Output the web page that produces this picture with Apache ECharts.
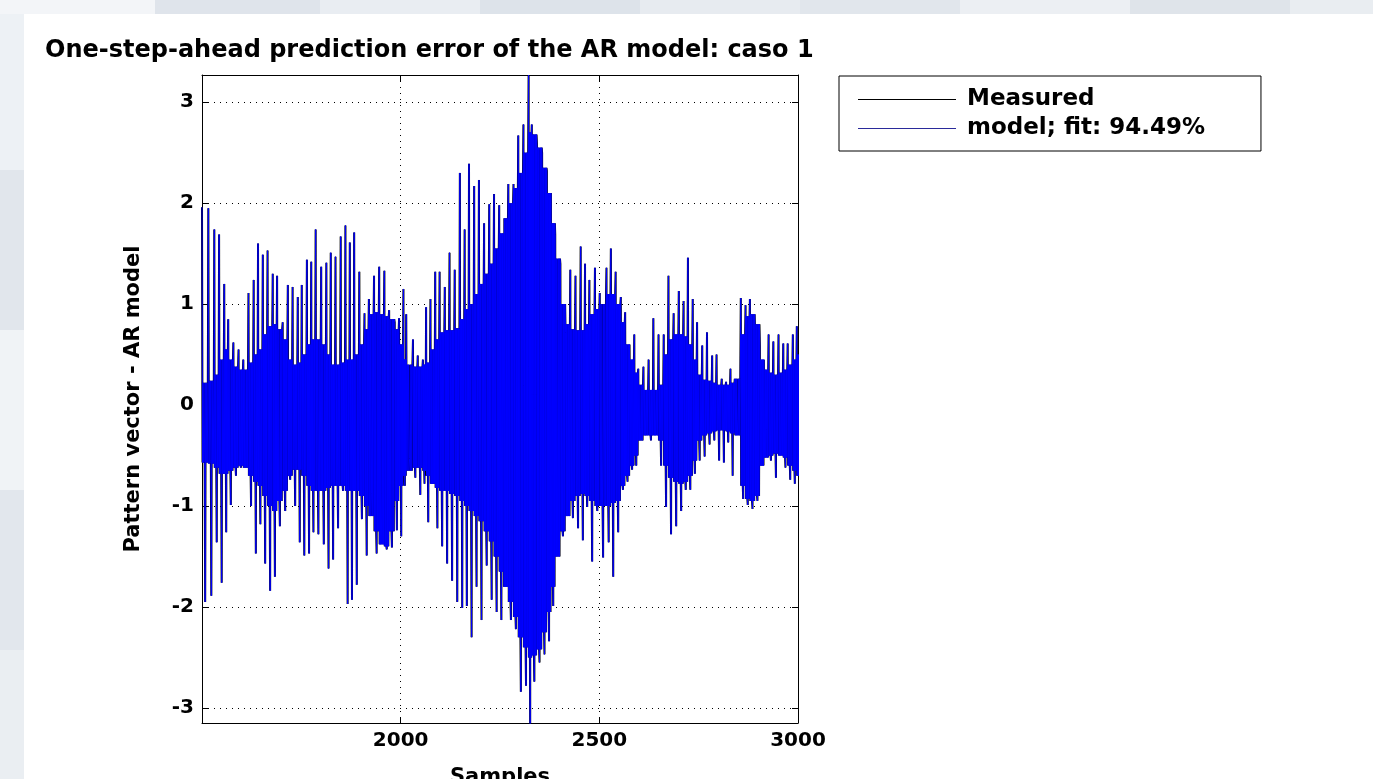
<!DOCTYPE html>
<html>
<head>
<meta charset="utf-8">
<title>One-step-ahead prediction error of the AR model: caso 1</title>
<script src="https://cdn.jsdelivr.net/npm/echarts@6/dist/echarts.min.js"></script>
<style>
html, body { margin: 0; padding: 0; width: 100%; height: 100%; overflow: hidden; }
body {
  background-color: #e6ebf1;
  background-image:
    linear-gradient(90deg, #f3f5f8 0 155px, #dfe4eb 155px 320px, #e9edf2 320px 480px, #dde3ea 480px 640px, #e7ebf0 640px 800px, #e1e6ec 800px 960px, #eceff3 960px 1130px, #dfe4ea 1130px 1290px, #e9edf1 1290px),
    linear-gradient(180deg, #edf1f5 0 170px, #e1e6ec 170px 330px, #f0f3f6 330px 490px, #e2e7ed 490px 650px, #eaeef2 650px);
  background-size: 100% 14px, 24px 100%;
  background-repeat: no-repeat;
}
#paper { position: absolute; left: 24px; top: 14px; right: 0; bottom: 0; background: #fff; }
#chart { position: absolute; left: 0; top: 0; width: 1373px; height: 779px; }
</style>
</head>
<body>
<div id="paper"></div>
<div id="chart"></div>
<script>
// sample index of every spike
const spikeSample = [
  1500, 1516, 1531, 1543, 1556, 1566, 1579, 1592, 1604, 1617, 1630, 1641, 1653, 1665, 1678, 1689, 1703, 1716, 1728, 1741, 1751,
  1764, 1775, 1786, 1800, 1813, 1824, 1836, 1849, 1861, 1872, 1883, 1896, 1909, 1920, 1933, 1946, 1959, 1971, 1985, 1996, 2007,
  2014, 2031, 2043, 2056, 2064, 2075, 2087, 2098, 2111, 2123, 2136, 2149, 2161, 2172, 2185, 2197, 2210, 2223, 2235, 2248, 2259,
  2271, 2284, 2296, 2309, 2322, 2330, 2343, 2356, 2368, 2379, 2389, 2402, 2415, 2427, 2440, 2453, 2464, 2475, 2489, 2501,
  2518, 2529, 2541, 2554, 2565, 2577, 2588, 2598, 2611, 2624, 2636, 2649, 2662, 2674, 2687, 2700, 2712, 2723, 2735, 2746, 2759,
  2771, 2784, 2795, 2808, 2819, 2830, 2841, 2856, 2868, 2879, 2892, 2904, 2915, 2926, 2938, 2951, 2963, 2974, 2987, 2997
]
// tip of each upward spike
const spikeTop = [
  1.96, 1.95, 1.74, 1.69, 1.20, 0.85, 0.62, 0.55, 0.45, 1.11, 1.24, 1.60, 1.49, 1.53, 1.30, 1.28, 0.82, 1.19, 1.17, 1.07, 1.19,
  1.44, 1.42, 1.74, 1.37, 1.41, 1.51, 1.47, 1.67, 1.78, 1.61, 1.71, 1.32, 0.91, 1.05, 1.28, 1.37, 1.33, 0.94, 0.82, 0.86, 1.15,
  0.90, 0.65, 0.49, 0.45, 0.97, 1.05, 1.32, 1.32, 1.17, 1.51, 1.34, 2.30, 1.74, 2.39, 2.17, 2.23, 1.80, 1.99, 2.09, 1.98, 1.71,
  2.19, 2.19, 2.67, 2.78, 3.27, 2.78, 2.59, 2.50, 2.32, 2.09, 1.69, 1.40, 0.72, 1.34, 1.28, 1.57, 1.40, 1.24, 1.36, 1.11,
  1.36, 1.55, 1.32, 1.07, 0.92, 0.61, 0.70, 0.36, 0.38, 0.45, 0.86, 0.70, 0.70, 1.28, 0.91, 1.13, 1.03, 1.46, 1.05, 0.82, 0.59,
  0.72, 0.49, 0.50, 0.26, 0.23, 0.36, 0.26, 1.06, 0.99, 1.05, 0.70, 0.59, 0.45, 0.70, 0.63, 0.70, 0.61, 0.61, 0.70, 0.78
]
// tip of each downward spike
const spikeBottom = [
  -1.95, -1.89, -1.36, -1.76, -1.26, -0.99, -0.70, -0.62, -0.60, -1.00, -1.47, -1.18, -1.57, -1.84, -1.70, -1.20, -1.05, -0.74, -1.00, -1.36, -1.49,
  -1.47, -1.26, -1.28, -1.38, -1.62, -1.53, -1.22, -0.85, -1.97, -1.93, -1.78, -1.13, -1.49, -0.88, -1.47, -0.88, -1.43, -1.41, -1.24, -1.30, -0.80,
  -0.53, -0.72, -0.89, -0.78, -1.16, -0.74, -1.22, -1.40, -1.57, -1.74, -1.95, -2.01, -1.99, -2.30, -1.80, -2.13, -1.59, -1.93, -2.05, -2.13, -1.67,
  -2.13, -2.22, -2.84, -2.78, -3.22, -2.74, -2.55, -2.47, -2.34, -1.99, -1.51, -1.30, -0.93, -1.12, -1.22, -1.34, -1.01, -1.55, -1.05, -1.51,
  -1.36, -1.70, -1.26, -0.84, -0.76, -0.64, -0.60, -0.22, -0.26, -0.35, -0.30, -0.60, -1.01, -1.28, -1.20, -1.05, -0.84, -0.84, -0.68, -0.55, -0.51,
  -0.39, -0.35, -0.55, -0.57, -0.37, -0.70, -0.14, -0.93, -0.99, -1.03, -0.95, -0.28, -0.24, -0.55, -0.72, -0.30, -0.62, -0.74, -0.78, -0.70
]
// upper / lower edge of the dense (solid) part of the trace at each spike
const bandHigh = [
  0.22, 0.24, 0.30, 0.45, 0.55, 0.45, 0.38, 0.35, 0.35, 0.42, 0.50, 0.55, 0.70, 0.78, 0.80, 0.75, 0.65, 0.45, 0.40, 0.42, 0.50,
  0.60, 0.65, 0.65, 0.60, 0.50, 0.40, 0.40, 0.42, 0.45, 0.45, 0.50, 0.60, 0.75, 0.90, 0.92, 0.90, 0.88, 0.85, 0.75, 0.60, 0.45,
  0.40, 0.38, 0.38, 0.40, 0.42, 0.55, 0.65, 0.72, 0.74, 0.74, 0.76, 0.85, 0.95, 1.00, 1.10, 1.20, 1.30, 1.40, 1.55, 1.70, 1.85,
  2.00, 2.15, 2.30, 2.50, 2.70, 2.68, 2.55, 2.35, 2.10, 1.80, 1.45, 1.00, 0.80, 0.75, 0.74, 0.74, 0.80, 0.90, 0.95, 1.00,
  1.10, 1.10, 1.00, 0.82, 0.60, 0.45, 0.32, 0.20, 0.15, 0.15, 0.15, 0.20, 0.50, 0.65, 0.70, 0.70, 0.68, 0.60, 0.45, 0.30, 0.25,
  0.24, 0.22, 0.20, 0.20, 0.20, 0.22, 0.26, 0.70, 0.88, 0.90, 0.80, 0.45, 0.35, 0.32, 0.30, 0.32, 0.35, 0.40, 0.45, 0.50
]
const bandLow = [
  -0.57, -0.58, -0.62, -0.68, -0.68, -0.65, -0.62, -0.60, -0.62, -0.70, -0.76, -0.80, -0.90, -1.00, -1.05, -0.95, -0.85, -0.70, -0.64, -0.64, -0.70,
  -0.80, -0.85, -0.85, -0.85, -0.82, -0.80, -0.80, -0.80, -0.85, -0.85, -0.85, -0.90, -1.00, -1.10, -1.25, -1.38, -1.40, -1.25, -0.95, -0.80, -0.70,
  -0.65, -0.62, -0.62, -0.65, -0.70, -0.78, -0.82, -0.85, -0.85, -0.88, -0.90, -0.95, -1.00, -1.05, -1.10, -1.15, -1.25, -1.35, -1.50, -1.65, -1.80,
  -1.95, -2.10, -2.30, -2.40, -2.50, -2.48, -2.42, -2.25, -2.05, -1.80, -1.50, -1.25, -1.10, -0.95, -0.90, -0.88, -0.90, -0.95, -1.00, -1.00,
  -1.00, -0.97, -0.95, -0.80, -0.70, -0.60, -0.50, -0.35, -0.30, -0.30, -0.30, -0.35, -0.60, -0.72, -0.76, -0.78, -0.76, -0.70, -0.55, -0.35, -0.30,
  -0.28, -0.26, -0.25, -0.25, -0.26, -0.28, -0.30, -0.80, -0.93, -0.95, -0.90, -0.60, -0.52, -0.50, -0.48, -0.50, -0.52, -0.60, -0.65, -0.70
]

const xTickLabels = [2000, 2500, 3000]
const legendNames = ['Measured', 'model; fit: 94.49%']

// one spike cycle = up spike, dense wiggle, down spike, dense wiggle
function buildTrace() {
  const pts = []
  for (let i = 0; i < spikeSample.length; i++) {
    const x0 = spikeSample[i]
    const step = (i + 1 < spikeSample.length ? spikeSample[i + 1] - x0 : x0 - spikeSample[i - 1]) / 12
    const hi = bandHigh[i]
    const lo = bandLow[i]
    const ys = [spikeTop[i], lo, hi, lo, hi, lo, spikeBottom[i], hi, lo, hi, lo, hi]
    ys.forEach((y, k) => pts.push([x0 + k * step, y]))
  }
  return pts
}

const trace = buildTrace()
const font = 'DejaVu Sans'
const boldText = (size) => ({ fontFamily: font, fontWeight: 'bold', fontSize: size, color: '#000' })

const chart = echarts.init(document.getElementById('chart'))
const option = {
  animation: false,
  backgroundColor: 'transparent',
  title: {
    text: 'One-step-ahead prediction error of the AR model: caso 1',
    left: 45,
    top: 39,
    padding: 0,
    textStyle: boldText(24)
  },
  legend: {
    data: legendNames,
    orient: 'vertical',
    left: 839,
    top: 76,
    selectedMode: false,
    icon: 'rect',
    backgroundColor: '#fff',
    borderColor: '#000',
    borderWidth: 1,
    borderRadius: 0,
    padding: [12, 56, 11, 19],
    itemWidth: 98,
    itemHeight: 1,
    itemGap: 6,
    textStyle: Object.assign(boldText(23), { padding: [0, 0, 0, 6] })
  },
  grid: { left: 202, right: 575, top: 75, bottom: 56, show: false, outerBoundsMode: 'none', containLabel: false },
  xAxis: [
    {
      type: 'value',
      min: 1500,
      max: 3000,
      interval: 500,
      position: 'bottom',
      name: 'Samples',
      nameLocation: 'middle',
      nameGap: 44,
      nameTextStyle: boldText(21),
      axisLine: { onZero: false, lineStyle: { color: '#000', width: 1 } },
      axisTick: { inside: true, length: 6, lineStyle: { color: '#000' } },
      axisLabel: Object.assign(boldText(20), {
        showMinLabel: false,
        margin: 8,
        formatter: (v) => (xTickLabels.indexOf(v) >= 0 ? String(v) : '')
      }),
      splitLine: { show: true, lineStyle: { color: '#000', width: 1, type: [1, 5] } }
    },
    {
      type: 'value',
      min: 1500,
      max: 3000,
      interval: 500,
      position: 'top',
      axisLine: { onZero: false, lineStyle: { color: '#000', width: 1 } },
      axisTick: { inside: true, length: 6, lineStyle: { color: '#000' } },
      axisLabel: { show: false },
      splitLine: { show: false }
    }
  ],
  yAxis: [
    {
      type: 'value',
      min: -3.15,
      max: 3.27,
      splitNumber: 6,
      position: 'left',
      name: 'Pattern vector - AR model',
      nameLocation: 'middle',
      nameGap: 58,
      nameTextStyle: boldText(21),
      axisLine: { onZero: false, lineStyle: { color: '#000', width: 1 } },
      axisTick: { inside: true, length: 6, lineStyle: { color: '#000' } },
      axisLabel: Object.assign(boldText(20), { showMinLabel: false, showMaxLabel: false, margin: 8 }),
      splitLine: { show: true, lineStyle: { color: '#000', width: 1, type: [1, 5] } }
    },
    {
      type: 'value',
      min: -3.15,
      max: 3.27,
      splitNumber: 6,
      position: 'right',
      axisLine: { onZero: false, lineStyle: { color: '#000', width: 1 } },
      axisTick: { inside: true, length: 6, lineStyle: { color: '#000' } },
      axisLabel: { show: false },
      splitLine: { show: false }
    }
  ],
  series: [
    {
      name: legendNames[0],
      type: 'line',
      data: trace,
      symbol: 'none',
      color: '#000',
      lineStyle: { color: '#000', width: 2 },
      silent: true
    },
    {
      name: legendNames[1],
      type: 'line',
      data: trace,
      symbol: 'none',
      color: '#2a2a9a',
      lineStyle: { color: '#0000ff', width: 1 },
      silent: true
    }
  ]
}
chart.setOption(option)
</script>
</body>
</html>
